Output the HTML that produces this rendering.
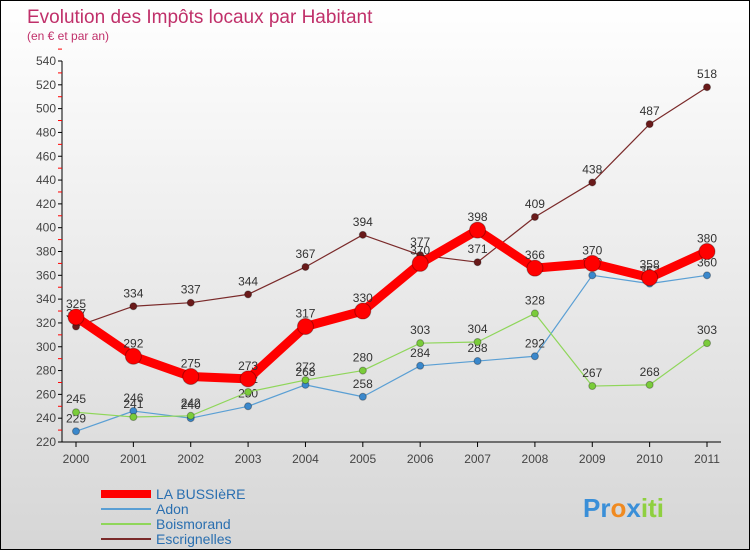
<!DOCTYPE html>
<html><head><meta charset="utf-8"><style>
body{margin:0}
#c{width:748px;height:548px;border:1px solid #000;background:linear-gradient(#fff,#d6d6d6);position:relative;overflow:hidden;font-family:"Liberation Sans",sans-serif}
</style></head><body>
<div id="c">
<svg id="s" width="748" height="548" xmlns="http://www.w3.org/2000/svg">
<text x="26" y="22" font-size="19" fill="#c0306a">Evolution des Impôts locaux par Habitant</text>
<text x="26" y="39" font-size="12" fill="#c0306a">(en € et par an)</text>
<g id="axes"></g><g id="series"></g>
<g font-size="14" fill="#2a6fb0">
<line x1="100" y1="493" x2="150" y2="493" stroke="#f00" stroke-width="8"/><text x="155" y="498">LA BUSSIèRE</text>
<line x1="100" y1="508" x2="150" y2="508" stroke="#5a9fd4" stroke-width="2"/><text x="155" y="513">Adon</text>
<line x1="100" y1="523" x2="150" y2="523" stroke="#8fd65a" stroke-width="2"/><text x="155" y="528">Boismorand</text>
<line x1="100" y1="538" x2="150" y2="538" stroke="#7a2a2a" stroke-width="2"/><text x="155" y="543">Escrignelles</text>
</g>
<text x="582" y="516" font-size="26" font-weight="bold"><tspan fill="#3a8fd8">Pr</tspan><tspan fill="#f08a20">o</tspan><tspan fill="#3a8fd8">x</tspan><tspan fill="#8fd040">iti</tspan></text>
</svg></div>
<script>
const years=[2000,2001,2002,2003,2004,2005,2006,2007,2008,2009,2010,2011];
const yTicks=[220,240,260,280,300,320,340,360,380,400,420,440,460,480,500,520,540];
const laBussiere=[325,292,275,273,317,330,370,398,366,370,358,380];
const adon=[229,246,240,250,268,258,284,288,292,360,353,360];
const boismorand=[245,241,242,262,272,280,303,304,328,267,268,303];
const escrignelles=[317,334,337,344,367,394,377,371,409,438,487,518];
const NS="http://www.w3.org/2000/svg";
const X=i=>75+i*(706-75)/11;
const Y=v=>441-(v-220)*(441-60)/320;
function mk(t,a,p){const e=document.createElementNS(NS,t);for(const k in a)e.setAttribute(k,a[k]);p.appendChild(e);return e;}
const ax=document.getElementById('axes');
const yl=mk('line',{x1:61,y1:60,x2:61,y2:441,stroke:'#000'},ax);


const xl=mk('line',{x1:61,y1:441,x2:720,y2:441,stroke:'#000'},ax);


yTicks.forEach(v=>{
 mk('line',{x1:57,y1:Y(v),x2:61,y2:Y(v),stroke:'#000'},ax);
 mk('line',{x1:57,y1:Y(v+10),x2:61,y2:Y(v+10),stroke:'#f00'},ax);
 const t=mk('text',{x:55,y:Y(v)+4,'font-size':12,'text-anchor':'end',fill:'#444'},ax);t.textContent=v;
 
 
});
years.forEach((y,i)=>{
 mk('line',{x1:X(i),y1:441,x2:X(i),y2:446,stroke:'#000'},ax);
 const t=mk('text',{x:X(i),y:462,'font-size':12,'text-anchor':'middle',fill:'#444'},ax);t.textContent=y;
 
 
});
const sg=document.getElementById('series');
function series(vals,name,color,w,r,dot){
 const g=mk('g',{},sg);
 
 
 const l=mk('polyline',{points:vals.map((v,i)=>X(i)+','+Y(v)).join(' '),fill:'none',stroke:color,'stroke-width':w,'stroke-linejoin':'round'},g);
 
 
 vals.forEach((v,i)=>{
  const c=mk('circle',{cx:X(i),cy:Y(v),r:r,fill:dot,stroke:'rgba(0,0,0,0.3)','stroke-width':1},g);
  
  
  const t=mk('text',{x:X(i),y:Y(v)-9,'font-size':12,'text-anchor':'middle',fill:'#333'},g);t.textContent=v;
  
  
 });
}
series(escrignelles,'escrignelles','#7a2a2a',1.2,3.5,'#6a1a1a');
series(adon,'adon','#5a9fd4',1.2,3.5,'#3a88cc');
series(boismorand,'boismorand','#8fd65a',1.2,3.5,'#7acc3a');
series(laBussiere,'la-bussiere','#f00',9,8,'#f00');
</script>
</body></html>
